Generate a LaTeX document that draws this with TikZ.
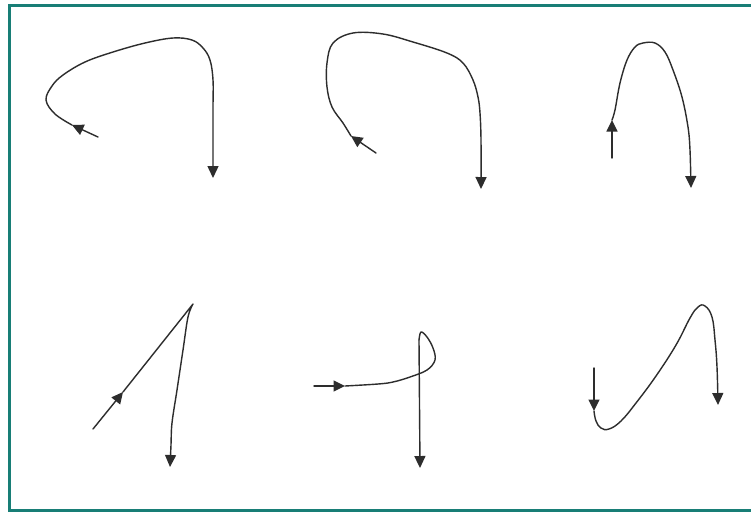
\documentclass[tikz,border=0pt]{standalone}
\usepackage{xcolor}
\usepackage{tikz}
\usetikzlibrary{arrows.meta}

\definecolor{frameteal}{RGB}{24,126,118}
\definecolor{penink}{RGB}{45,45,45}

\begin{document}
\begin{tikzpicture}[
  x=0.02cm, y=-0.02cm,
  stroke/.style={line width=0.8pt, penink, line join=round, line cap=round},
  headed/.style={stroke, -{Triangle[length=2.4mm,width=2.2mm]}},
  midhead/.style={stroke, -{Triangle[length=2.3mm,width=2.2mm]}},
  frame/.style={line width=1.7pt, frameteal}
]
\useasboundingbox (0,0) rectangle (751,512);
\fill[white] (0,0) rectangle (751,512);
\draw[frame] (751,5) -- (9.5,5) -- (9.5,510) -- (751,510);

% top row
\draw[midhead] (98,137) -- (72,125);
\draw[headed] plot[smooth, tension=0.6] coordinates {(72,125) (55,114) (46,100) (52,86) (63,75) (85,62) (113,52) (145,43) (173,38) (192,40) (203,48) (210,60) (213,80) (213,110) (213,178)};

\draw[midhead] (376,153) -- (351,136);
\draw[headed] plot[smooth, tension=0.6] coordinates {(351,136) (343,123) (332,107) (327,87) (327,63) (333,43) (353,33) (383,34) (413,42) (447,53) (463,63) (473,80) (478,97) (480,113) (481,140) (481,189)};

\draw[midhead] (612,158) -- (612,120);
\draw[headed] plot[smooth, tension=0.6] coordinates {(612,120) (615,110) (620,83) (627,60) (635,47) (643,43) (655,43) (665,52) (673,70) (682,97) (688,127) (690,150) (691,188)};

% bottom row
\draw[midhead] (93,429) -- (123,392);
\draw[headed] (123,392) -- (193,304) plot[smooth, tension=0.6] coordinates {(193,304) (188,317) (183,350) (177,390) (172,423) (171,445) (170,467)};

\draw[midhead] (314,386) -- (345,386);
\draw[stroke] plot[smooth, tension=0.6] coordinates {(345,386) (378,384) (393,382) (410,377) (427,370) (435,360) (433,348) (427,337) (421,332) (419,340)};
\draw[headed] (419,340) -- (420,468);

\draw[midhead] (594,368) -- (594,411);
\draw[headed] plot[smooth, tension=0.7] coordinates {(594,411) (596,421) (601,428) (609,429) (621,421) (636,403) (656,376) (676,345) (690,318) (698,307) (705,306) (712,317) (715,340) (717,367) (718,405)};
\end{tikzpicture}
\end{document}
